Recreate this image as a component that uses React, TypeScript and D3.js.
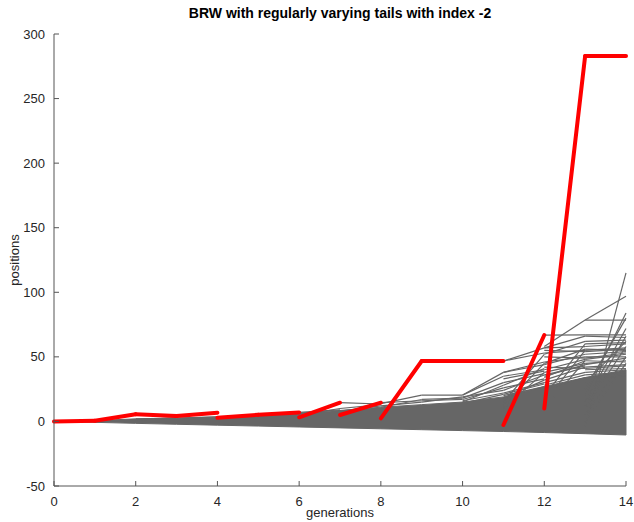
import React, { useEffect, useRef } from 'react';
import * as d3 from 'd3';

// axis ticks
const xTicks = [0, 2, 4, 6, 8, 10, 12, 14];
const yTicks = [-50, 0, 50, 100, 150, 200, 250, 300];

// the dense cloud of particles, lowest and highest edge per generation
const bandGen = [0, 1, 2, 3, 4, 5, 6, 7, 8, 9, 10, 11, 12, 13, 14];
const bandLow = [0, -0.7, -1.5, -2.2, -2.9, -3.6, -4.3, -5.0, -5.7, -6.4, -7.1, -7.8, -8.6, -9.5, -10.5];
const bandHigh = [0, 0.6, 2, 2.5, 3.5, 5, 6.5, 8.5, 11, 13, 15, 19, 27, 34, 40];

// red path: one segment per generation, parent position -> child position
const redGen = [0, 1, 2, 3, 4, 5, 6, 7, 8, 9, 10, 11, 12, 13];
const redFrom = [0, 0.5, 5.5, 4.2, 2.8, 5.2, 3.2, 5, 2.4, 46.8, 46.8, -2.8, 10, 283];
const redTo = [0.5, 5.5, 4.2, 6.7, 5.2, 7, 14.5, 14.5, 46.8, 46.8, 46.8, 66.9, 283, 283];

// gray branches sticking out of the cloud: [generation, from, to]
const grayBranches: [number, number, number][] = [
  [2, 2, 2.5], [2, 1, 3], [3, 2.5, 3.5],
  [6, 7, 9], [6, 5, 10], [7, 8, 12], [7, 10, 13], [7, 14.5, 13.5],
  [8, 14.5, 16], [8, 13.8, 20.4], [8, 12, 15], [8, 11, 17],
  [9, 20.4, 20.4], [9, 17, 18], [9, 15, 19], [9, 16, 17],
  [10, 20.4, 38], [10, 20.4, 35], [10, 18, 30], [10, 17, 26], [10, 16, 22], [10, 19, 24],
  [10, 15, 28], [10, 14, 21],
  [11, 46.8, 57], [11, 46.8, 53], [11, 38, 44], [11, 38, 46], [11, 35, 40], [11, 30, 37],
  [11, 26, 33], [11, 22, 30], [11, 20, 27], [11, 15, 52], [11, 12, 45], [11, 24, 36],
  [11, 28, 41], [11, 33, 39], [11, 18, 32], [11, 10, 38], [11, 21, 29],
  [12, 66.9, 67], [12, 57, 58], [12, 57, 66], [12, 53, 55], [12, 58, 78.5], [12, 44, 52],
  [12, 46, 50], [12, 40, 48], [12, 38, 45], [12, 35, 44], [12, 32, 42], [12, 30, 38],
  [12, 28, 36], [12, 25, 34], [12, 52, 62], [12, 20, 60], [12, 10, 47], [12, 42, 41],
  [12, 45, 56], [12, 50, 49], [12, 36, 43], [12, 15, 55], [12, 34, 47], [12, 55, 54],
  [13, 67, 67], [13, 78.5, 78.5], [13, 78.5, 97], [13, -4, 115], [13, 58, 60], [13, 66, 65],
  [13, 62, 63], [13, 55, 57], [13, 52, 54], [13, 50, 50], [13, 48, 52], [13, 45, 47],
  [13, 42, 44], [13, 40, 41], [13, 38, 40], [13, 36, 38], [13, 34, 35], [13, 20, 84],
  [13, 25, 80], [13, 15, 72], [13, 30, 62], [13, 10, 58], [13, 5, 50], [13, 47, 46],
  [13, 60, 61], [13, 56, 55], [13, 44, 49], [13, 49, 53], [13, 41, 43], [13, 12, 66],
  [13, 0, 45], [13, 54, 56],
];

const W = 634;
const H = 522;
const FONT = '"Liberation Sans", Arial, Helvetica, sans-serif';

export default function App() {
  const ref = useRef<SVGSVGElement>(null);

  useEffect(() => {
    const svg = d3.select(ref.current);
    svg.selectAll('*').remove();

    const x = d3.scaleLinear().domain([0, 14]).range([54, 626]);
    const y = d3.scaleLinear().domain([-50, 300]).range([486, 34]);

    const gray = '#666666';

    // cloud
    const area = d3.area<number>()
      .x((d) => x(bandGen[d]))
      .y0((d) => y(bandLow[d]))
      .y1((d) => y(bandHigh[d]));
    svg.append('path')
      .attr('d', area(d3.range(bandGen.length)))
      .attr('fill', gray)
      .attr('stroke', gray)
      .attr('stroke-width', 1);

    // branches
    svg.append('g')
      .selectAll('line')
      .data(grayBranches)
      .enter()
      .append('line')
      .attr('x1', (d) => x(d[0]))
      .attr('x2', (d) => x(d[0] + 1))
      .attr('y1', (d) => y(d[1]))
      .attr('y2', (d) => y(d[2]))
      .attr('stroke', gray)
      .attr('stroke-width', 1.2);

    // red path
    svg.append('g')
      .selectAll('line')
      .data(redGen)
      .enter()
      .append('line')
      .attr('x1', (d) => x(d))
      .attr('x2', (d) => x(d + 1))
      .attr('y1', (d, i) => y(redFrom[i]))
      .attr('y2', (d, i) => y(redTo[i]))
      .attr('stroke', '#ff0000')
      .attr('stroke-width', 4)
      .attr('stroke-linecap', 'round');

    // axes
    const axisColor = '#555555';
    const textColor = '#262626';
    svg.append('line')
      .attr('x1', x(0)).attr('x2', x(0))
      .attr('y1', y(300)).attr('y2', y(-50))
      .attr('stroke', axisColor);
    svg.append('line')
      .attr('x1', x(0)).attr('x2', x(14))
      .attr('y1', y(-50)).attr('y2', y(-50))
      .attr('stroke', axisColor);

    svg.append('g')
      .selectAll('line')
      .data(xTicks)
      .enter()
      .append('line')
      .attr('x1', (d) => x(d)).attr('x2', (d) => x(d))
      .attr('y1', y(-50)).attr('y2', y(-50) - 5)
      .attr('stroke', axisColor);
    svg.append('g')
      .selectAll('text')
      .data(xTicks)
      .enter()
      .append('text')
      .attr('x', (d) => x(d))
      .attr('y', y(-50) + 20)
      .attr('text-anchor', 'middle')
      .attr('font-family', FONT)
      .attr('font-size', 13)
      .attr('fill', textColor)
      .text((d) => d);

    svg.append('g')
      .selectAll('line')
      .data(yTicks)
      .enter()
      .append('line')
      .attr('x1', x(0)).attr('x2', x(0) + 5)
      .attr('y1', (d) => y(d)).attr('y2', (d) => y(d))
      .attr('stroke', axisColor);
    svg.append('g')
      .selectAll('text')
      .data(yTicks)
      .enter()
      .append('text')
      .attr('x', x(0) - 9)
      .attr('y', (d) => y(d) + 4.5)
      .attr('text-anchor', 'end')
      .attr('font-family', FONT)
      .attr('font-size', 13)
      .attr('fill', textColor)
      .text((d) => d);

    // labels
    svg.append('text')
      .attr('x', 340)
      .attr('y', 18)
      .attr('text-anchor', 'middle')
      .attr('font-family', FONT)
      .attr('font-size', 14)
      .attr('font-weight', 'bold')
      .attr('fill', '#000')
      .text('BRW with regularly varying tails with index -2');
    svg.append('text')
      .attr('x', 340)
      .attr('y', 517)
      .attr('text-anchor', 'middle')
      .attr('font-family', FONT)
      .attr('font-size', 13)
      .attr('fill', textColor)
      .text('generations');
    svg.append('text')
      .attr('transform', 'translate(19,260) rotate(-90)')
      .attr('text-anchor', 'middle')
      .attr('font-family', FONT)
      .attr('font-size', 13)
      .attr('fill', textColor)
      .text('positions');
  }, []);

  return (
    <svg
      ref={ref}
      width={W}
      height={H}
      style={{ position: 'absolute', left: 0, top: 0, background: '#fff' }}
    />
  );
}
